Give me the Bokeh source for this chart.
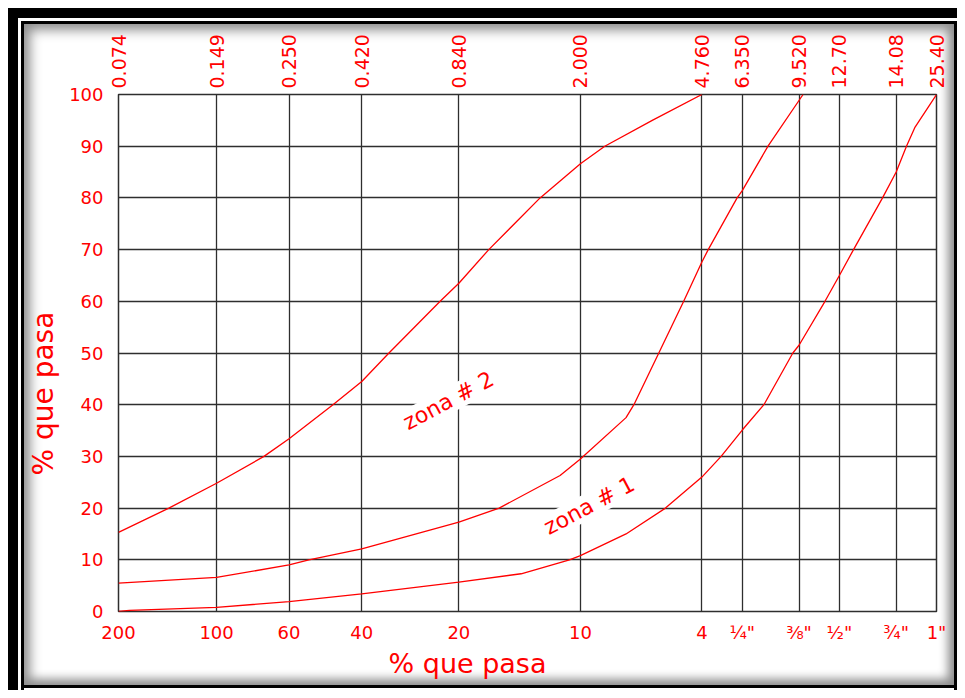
from bokeh.plotting import figure
from bokeh.models import Range1d, FixedTicker, LogAxis, Label, Title
from bokeh.embed import file_html
from bokeh.resources import INLINE

# ---- data ----
sieve_mm = [0.074, 0.149, 0.25, 0.42, 0.84, 2.0, 4.76, 6.35, 9.52, 12.7, 19.05, 25.4]
top_labels = ["0.074", "0.149", "0.250", "0.420", "0.840", "2.000", "4.760",
              "6.350", "9.520", "12.70", "14.08", "25.40"]
bottom_labels = ["200", "100", "60", "40", "20", "10", "4",
                 "\u00bc\"", "\u215c\"", "\u00bd\"", "\u00be\"", "1\""]
y_ticks = [0, 10, 20, 30, 40, 50, 60, 70, 80, 90, 100]

upper_mm = [0.074, 0.106, 0.149, 0.209, 0.25, 0.342, 0.42, 0.51, 0.735, 0.84,
            1.04, 1.5, 2.0, 2.38, 3.34, 4.76]
upper_pct = [15.3, 20, 24.8, 30, 33.4, 40, 44.5, 50, 60, 63.5,
             70, 80, 86.6, 90, 95.0, 100]

middle_mm = [0.074, 0.149, 0.25, 0.288, 0.42, 0.84, 1.12, 1.73, 2.0, 2.77, 2.93,
             3.50, 4.18, 4.76, 4.98, 6.12, 6.35, 7.63, 9.8]
middle_pct = [5.5, 6.6, 9.0, 10, 12.1, 17.3, 20, 26.3, 29.5, 37.5, 40,
              50, 60, 67.6, 70, 80, 81.4, 90, 100]

lower_mm = [0.074, 0.08, 0.149, 0.25, 0.42, 0.84, 1.31, 1.85, 2.0, 2.77, 3.67, 4.76,
            5.46, 6.35, 7.41, 9.11, 9.52, 11.46, 12.7, 14.05, 17.28, 19.05, 20.5, 21.8, 25.4]
lower_pct = [0, 0.2, 0.8, 1.9, 3.4, 5.7, 7.3, 10, 10.8, 15, 20, 26,
             30, 35.1, 40, 50, 51.5, 60, 65, 70, 80, 85, 90, 93.7, 100]

zone_labels = ["zona # 2", "zona # 1"]
zone_x = [0.78, 2.13]
zone_y = [40.8, 20.5]

RED = "#ff0000"
GRID = "#2e2e2e"
FONT = "DejaVu Sans"

p = figure(width=957, height=690, x_axis_type="log",
           x_range=Range1d(sieve_mm[0], sieve_mm[-1]), y_range=Range1d(0, 100),
           output_backend="svg", toolbar_location=None,
           min_border_left=118, min_border_top=94, min_border_right=21, min_border_bottom=79)
p.border_fill_color = None
p.background_fill_color = "white"
p.outline_line_color = GRID
p.outline_line_width = 1.5

# grids
p.xgrid.ticker = FixedTicker(ticks=sieve_mm)
p.ygrid.ticker = FixedTicker(ticks=y_ticks)
for g in (p.xgrid, p.ygrid):
    g.grid_line_color = GRID
    g.grid_line_width = 1.3
    g.grid_line_alpha = 1.0
p.xgrid.minor_grid_line_color = None

# bottom axis
xa = p.xaxis[0]
xa.ticker = FixedTicker(ticks=sieve_mm)
xa.major_label_overrides = {v: l for v, l in zip(sieve_mm, bottom_labels)}
# left axis
ya = p.yaxis[0]
ya.ticker = FixedTicker(ticks=y_ticks)
ya.major_label_overrides = {v: str(v) for v in y_ticks}

# top axis
ta = LogAxis(ticker=FixedTicker(ticks=sieve_mm),
             major_label_overrides={v: l for v, l in zip(sieve_mm, top_labels)},
             major_label_orientation="vertical")
p.add_layout(ta, "above")

for ax in (xa, ya, ta):
    ax.axis_line_color = None
    ax.major_tick_line_color = None
    ax.minor_tick_line_color = None
    ax.major_tick_out = 0
    ax.major_tick_in = 0
    ax.minor_tick_out = 0
    ax.minor_tick_in = 0
    ax.major_label_text_color = RED
    ax.major_label_text_font = FONT
    ax.major_label_text_font_size = "18px"
ta.major_label_text_font_size = "19px"
xa.major_label_standoff = 10
ya.major_label_standoff = 15
ta.major_label_standoff = 6

# curves
for xs, ys in ((upper_mm, upper_pct), (middle_mm, middle_pct), (lower_mm, lower_pct)):
    p.line(xs, ys, line_color=RED, line_width=1.3)

# zone labels
for t, x, y in zip(zone_labels, zone_x, zone_y):
    p.add_layout(Label(x=x, y=y, text=t, angle=28, angle_units="deg",
                       text_align="center", text_baseline="middle",
                       text_color=RED, text_font=FONT, text_font_size="22px",
                       background_fill_color="white", border_line_color=None))

# axis titles
xt = Title(text="% que pasa", align="left", offset=270, standoff=0, text_color=RED,
           text_font=FONT, text_font_size="27px", text_font_style="normal")
p.add_layout(xt, "below")
yt = Title(text="% que pasa", align="left", offset=136, standoff=14, text_color=RED,
           text_font=FONT, text_font_size="28px", text_font_style="normal")
p.add_layout(yt, "left")

# double black frame with inner shadow, painted behind the transparent canvas border
p.styles = {
    "background-color": "white",
    "margin-bottom": "-8px",
    "box-shadow": (
        "inset 8px 8px 0 0 #fff, "
        "inset 18px 18px 0 0 #000, "
        "inset 21px 21px 0 0 #fff, "
        "inset 24px 24px 0 0 #000, "
        "inset -3px 0 0 0 #000, "
        "inset 0 -2px 0 0 #fff, "
        "inset 0 -5px 0 0 #000, "
        "inset 30px 30px 12px 0 #8e8e8e, "
        "inset -9px -11px 10px 0 #8e8e8e"
    ),
}

open("out.html", "w").write(file_html(p, INLINE))
